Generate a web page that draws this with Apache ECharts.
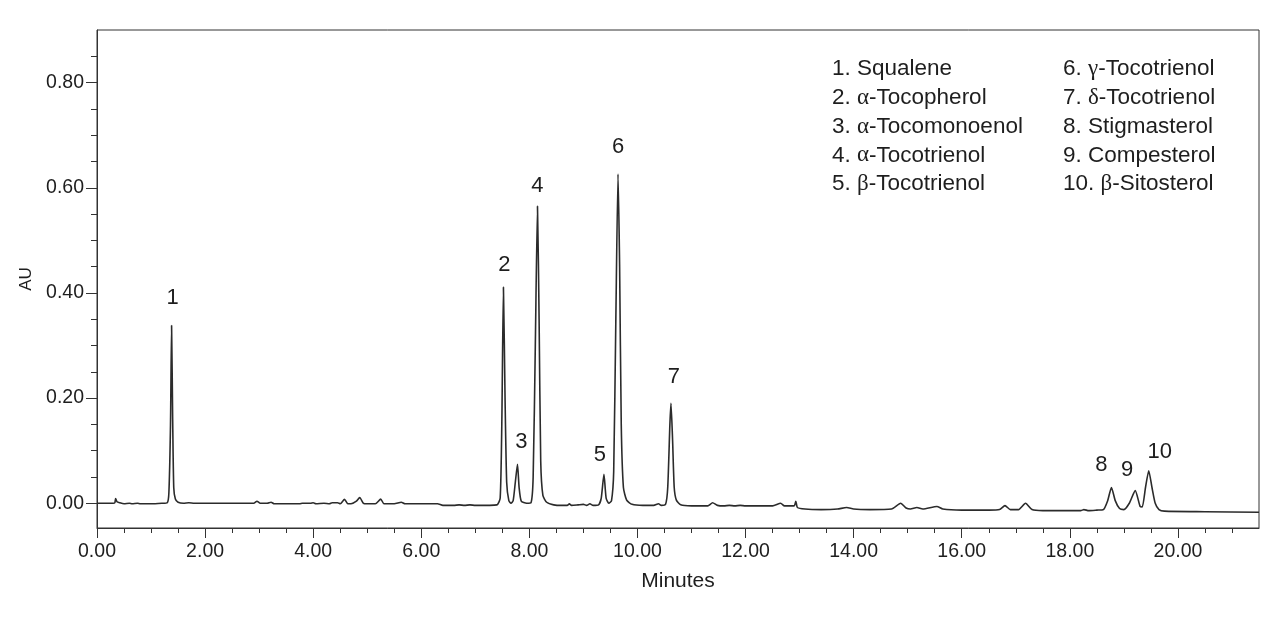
<!DOCTYPE html>
<html>
<head>
<meta charset="utf-8">
<script src="https://cdn.jsdelivr.net/npm/echarts@6/dist/echarts.min.js"></script>
<style>
  html, body { margin: 0; padding: 0; background: #fff; }
  #chart { width: 1280px; height: 618px; }
</style>
</head>
<body>
<div id="chart"></div>
<script>
// trace: minutes / AU
var traceMin = [
  0.00, 0.30, 0.33, 0.345, 0.37, 0.42, 0.50, 0.60, 0.65, 0.75, 0.80, 0.90, 1.00, 1.20,
  1.30, 1.33, 1.36, 1.38, 1.40, 1.42, 1.45, 1.50, 1.60, 1.70, 1.80, 2.00,
  2.90, 2.96, 3.02, 3.15, 3.22, 3.28, 3.50, 3.75, 3.80, 3.95, 4.00, 4.05, 4.20, 4.30,
  4.35, 4.45, 4.50, 4.58, 4.64, 4.70, 4.80, 4.86, 4.93, 5.00, 5.15, 5.25, 5.31, 5.50,
  5.63, 5.70, 6.30, 6.40, 6.60, 6.70, 6.80, 6.90, 7.00, 7.40,
  7.46, 7.49, 7.52, 7.55, 7.58, 7.62, 7.66, 7.70, 7.74, 7.78, 7.81, 7.85, 7.95,
  8.03, 8.07, 8.11, 8.15, 8.18, 8.21, 8.25, 8.32, 8.45, 8.60, 8.70, 8.74, 8.78,
  8.90, 9.00, 9.06, 9.12, 9.18, 9.28, 9.33, 9.38, 9.42, 9.47,
  9.52, 9.56, 9.60, 9.64, 9.67, 9.70, 9.74, 9.80, 9.90, 10.10, 10.30, 10.39, 10.44,
  10.52, 10.56, 10.60, 10.62, 10.65, 10.68, 10.72, 10.80, 11.00, 11.30, 11.39, 11.48,
  11.60, 11.70, 11.80, 11.90, 12.00, 12.50, 12.65, 12.72, 12.90, 12.93, 12.96,
  13.10, 13.40, 13.70, 13.87, 14.00, 14.30, 14.70, 14.87, 14.97, 15.05, 15.17, 15.28,
  15.54, 15.65, 16.00, 16.50, 16.70, 16.80, 16.90, 17.05, 17.18, 17.30, 17.50,
  18.00, 18.20, 18.26, 18.35, 18.50, 18.62, 18.70, 18.77, 18.84, 18.92, 19.00,
  19.10, 19.21, 19.30, 19.34, 19.40, 19.46, 19.52, 19.58, 19.65, 19.75, 20.50, 21.50
];
var traceAU = [
  0.000, 0.000, 0.001, 0.009, 0.003, 0.001, -0.001, 0.000, -0.001, 0.000, -0.001, -0.001, -0.001, 0.000,
  0.001, 0.020, 0.150, 0.338, 0.160, 0.030, 0.008, 0.002, 0.000, 0.001, 0.000, 0.000,
  0.000, 0.004, 0.000, 0.000, 0.002, -0.001, -0.001, -0.001, 0.000, 0.000, 0.001, -0.001, 0.000, -0.001,
  0.001, 0.001, -0.001, 0.0075, -0.001, -0.001, 0.004, 0.011, 0.000, -0.001, -0.001, 0.008, -0.001, -0.001,
  0.002, -0.001, -0.001, -0.004, -0.004, -0.003, -0.004, -0.003, -0.004, -0.003,
  0.010, 0.150, 0.411, 0.200, 0.040, 0.005, 0.000, 0.005, 0.040, 0.074, 0.030, 0.004, 0.000,
  0.001, 0.050, 0.300, 0.565, 0.350, 0.080, 0.015, 0.002, -0.003, -0.004, -0.004, -0.001, -0.004,
  -0.003, -0.002, -0.004, -0.001, -0.004, -0.003, 0.010, 0.055, 0.010, 0.000,
  0.005, 0.060, 0.350, 0.626, 0.450, 0.150, 0.030, 0.006, -0.002, -0.004, -0.004, -0.001, -0.004,
  -0.002, 0.030, 0.150, 0.190, 0.120, 0.030, 0.006, -0.003, -0.005, -0.005, 0.001, -0.004,
  -0.005, -0.004, -0.005, -0.004, -0.005, -0.005, 0.000, -0.005, -0.005, 0.004, -0.008,
  -0.011, -0.012, -0.011, -0.008, -0.011, -0.012, -0.011, 0.000, -0.009, -0.011, -0.008, -0.011,
  -0.006, -0.011, -0.013, -0.013, -0.012, -0.0045, -0.012, -0.012, 0.000, -0.012, -0.014,
  -0.014, -0.014, -0.012, -0.014, -0.013, -0.012, 0.005, 0.030, 0.005, -0.010, -0.012,
  0.000, 0.024, -0.006, -0.007, 0.030, 0.062, 0.030, 0.000, -0.012, -0.015, -0.016, -0.017
];

// numbered peaks
var peakNames = ['1', '2', '3', '4', '5', '6', '7', '8', '9', '10'];
var peakMin = [1.38, 7.52, 7.78, 8.15, 9.38, 9.64, 10.62, 18.77, 19.21, 19.46];
var peakAU = [0.338, 0.411, 0.074, 0.565, 0.055, 0.626, 0.190, 0.030, 0.024, 0.062];

var compoundNames = [
  '1. Squalene', '2. {g|α}-Tocopherol', '3. {g|α}-Tocomonoenol', '4. {g|α}-Tocotrienol',
  '5. {g|β}-Tocotrienol', '6. {g|γ}-Tocotrienol', '7. {g|δ}-Tocotrienol', '8. Stigmasterol',
  '9. Compesterol', '10. {g|β}-Sitosterol'
];

var xTicks = [0, 2, 4, 6, 8, 10, 12, 14, 16, 18, 20];
var yTicks = [0, 0.2, 0.4, 0.6, 0.8];

// label nudges (px) so the numbers sit where the original has them
var labelNudge = [[1, -3], [1, 3], [4, 3], [0, 5], [-4, 6], [0, -2], [3, -1], [-10, 2], [-8, 4], [11, 6]];

var font = 'Liberation Sans, Arial, sans-serif';
var ink = '#1e1e1e';

var chart = echarts.init(document.getElementById('chart'));

var trace = [];
for (var i = 0; i < traceMin.length; i++) {
  trace.push([traceMin[i], traceAU[i]]);
}
var peaks = [];
for (var j = 0; j < peakNames.length; j++) {
  peaks.push({
    value: [peakMin[j], peakAU[j]],
    name: peakNames[j],
    label: { offset: labelNudge[j] }
  });
}

var legendItems = [];
for (var k = 0; k < compoundNames.length; k++) {
  var col = k < 5 ? 0 : 1;
  var row = k % 5;
  legendItems.push({
    type: 'text',
    x: col ? 1063 : 832,
    y: 69 + row * 28.8,
    style: {
      text: compoundNames[k],
      font: '22.5px ' + font,
      fill: ink,
      verticalAlign: 'middle',
      rich: {
        g: { fontFamily: 'Liberation Serif, DejaVu Serif, serif', fontSize: 23, fill: ink }
      }
    }
  });
}

var option = {
  backgroundColor: '#fff',
  animation: false,
  grid: {
    left: 97, right: 21, top: 30, bottom: 90,
    show: true, borderColor: '#333', borderWidth: 1
  },
  xAxis: {
    type: 'value',
    min: 0, max: 21.5, interval: 2,
    name: 'Minutes', nameLocation: 'middle', nameGap: 43,
    nameTextStyle: { fontFamily: font, fontSize: 21, color: ink },
    axisLine: { onZero: false, lineStyle: { color: '#333', width: 1 } },
    axisTick: { inside: false, length: 10, customValues: xTicks, lineStyle: { color: '#333' } },
    minorTick: { show: true, splitNumber: 4, length: 5, lineStyle: { color: '#333' } },
    splitLine: { show: false },
    axisLabel: {
      fontFamily: font, fontSize: 19.5, color: ink, margin: 14,
      customValues: xTicks,
      formatter: function (v) { return v.toFixed(2); }
    }
  },
  yAxis: {
    type: 'value',
    min: -0.047, max: 0.9,
    name: 'AU', nameLocation: 'middle', nameGap: 62, nameRotate: 90,
    nameTextStyle: { fontFamily: font, fontSize: 17, color: ink },
    axisLine: { show: true, onZero: false, lineStyle: { color: '#333', width: 1 } },
    axisTick: { show: true, length: 11, customValues: yTicks, lineStyle: { color: '#333' } },
    minorTick: { show: true, splitNumber: 4, length: 6, lineStyle: { color: '#333' } },
    splitLine: { show: false },
    axisLabel: {
      fontFamily: font, fontSize: 19.5, color: ink, margin: 13,
      customValues: yTicks,
      formatter: function (v) { return v.toFixed(2); }
    }
  },
  graphic: legendItems,
  series: [
    {
      type: 'line',
      data: trace,
      showSymbol: false,
      smooth: 0.2,
      lineStyle: { color: '#2b2b2b', width: 1.6 },
      z: 3
    },
    {
      type: 'scatter',
      data: peaks,
      symbolSize: 0,
      itemStyle: { opacity: 1, color: 'transparent' },
      label: {
        show: true,
        position: 'top',
        distance: 14,
        formatter: '{b}',
        fontFamily: font,
        fontSize: 22,
        color: ink,
        opacity: 1
      },
      z: 4
    }
  ]
};
chart.setOption(option);
</script>
</body>
</html>
